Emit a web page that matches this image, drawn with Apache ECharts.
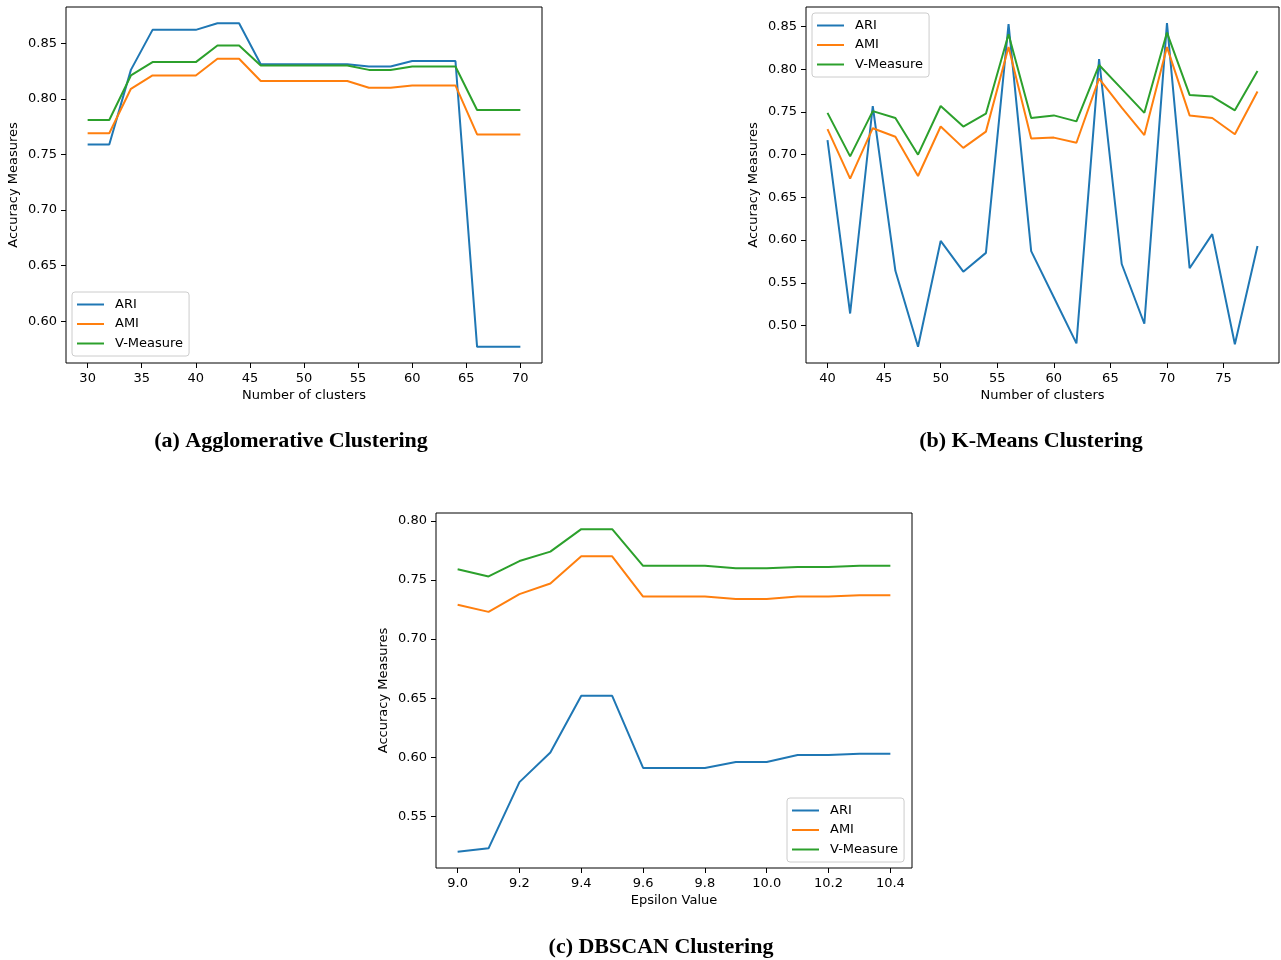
<!DOCTYPE html>
<html>
<head>
<meta charset="utf-8">
<script src="https://cdn.jsdelivr.net/npm/echarts@6/dist/echarts.min.js"></script>
<style>
  html, body { margin: 0; padding: 0; background: #fff; }
  #chart { width: 1281px; height: 960px; }
</style>
</head>
<body>
<div id="chart"></div>
<script>
// (a) Agglomerative
const aggX = [30, 32, 34, 36, 38, 40, 42, 44, 46, 48, 50, 52, 54, 56, 58, 60, 62, 64, 66, 68, 70];
const aggARI = [0.759, 0.759, 0.826, 0.862, 0.862, 0.862, 0.868, 0.868, 0.831, 0.831, 0.831, 0.831, 0.831, 0.829, 0.829, 0.834, 0.834, 0.834, 0.577, 0.577, 0.577];
const aggAMI = [0.769, 0.769, 0.809, 0.821, 0.821, 0.821, 0.836, 0.836, 0.816, 0.816, 0.816, 0.816, 0.816, 0.810, 0.810, 0.812, 0.812, 0.812, 0.768, 0.768, 0.768];
const aggV = [0.781, 0.781, 0.821, 0.833, 0.833, 0.833, 0.848, 0.848, 0.830, 0.830, 0.830, 0.830, 0.830, 0.826, 0.826, 0.829, 0.829, 0.829, 0.790, 0.790, 0.790];

// (b) K-Means
const kmX = [40, 42, 44, 46, 48, 50, 52, 54, 56, 58, 60, 62, 64, 66, 68, 70, 72, 74, 76, 78];
const kmARI = [0.717, 0.514, 0.757, 0.564, 0.475, 0.599, 0.563, 0.585, 0.853, 0.587, 0.533, 0.479, 0.812, 0.572, 0.502, 0.854, 0.567, 0.607, 0.478, 0.593];
const kmAMI = [0.730, 0.672, 0.731, 0.721, 0.675, 0.733, 0.708, 0.727, 0.826, 0.719, 0.720, 0.714, 0.789, 0.755, 0.723, 0.826, 0.746, 0.743, 0.724, 0.774];
const kmV = [0.749, 0.698, 0.751, 0.743, 0.700, 0.757, 0.733, 0.748, 0.841, 0.743, 0.746, 0.739, 0.805, 0.777, 0.749, 0.843, 0.770, 0.768, 0.752, 0.798];

// (c) DBSCAN
const dbX = [9.0, 9.1, 9.2, 9.3, 9.4, 9.5, 9.6, 9.7, 9.8, 9.9, 10.0, 10.1, 10.2, 10.3, 10.4];
const dbARI = [0.520, 0.523, 0.579, 0.604, 0.652, 0.652, 0.591, 0.591, 0.591, 0.596, 0.596, 0.602, 0.602, 0.603, 0.603];
const dbAMI = [0.729, 0.723, 0.738, 0.747, 0.770, 0.770, 0.736, 0.736, 0.736, 0.734, 0.734, 0.736, 0.736, 0.737, 0.737];
const dbV = [0.759, 0.753, 0.766, 0.774, 0.793, 0.793, 0.762, 0.762, 0.762, 0.760, 0.760, 0.761, 0.761, 0.762, 0.762];

const aggXTicks = [30, 35, 40, 45, 50, 55, 60, 65, 70];
const aggYTicks = [0.60, 0.65, 0.70, 0.75, 0.80, 0.85];
const kmXTicks = [40, 45, 50, 55, 60, 65, 70, 75];
const kmYTicks = [0.50, 0.55, 0.60, 0.65, 0.70, 0.75, 0.80, 0.85];
const dbXTicks = [9.0, 9.2, 9.4, 9.6, 9.8, 10.0, 10.2, 10.4];
const dbYTicks = [0.55, 0.60, 0.65, 0.70, 0.75, 0.80];

const names = ['ARI', 'AMI', 'V-Measure'];
const colors = ['#1f77b4', '#ff7f0e', '#2ca02c'];
const font = 'DejaVu Sans';

const chart = echarts.init(document.getElementById('chart'));

// matplotlib style 5% margins
const limits = (arrs) => {
  const all = [].concat(...arrs);
  const lo = Math.min(...all), hi = Math.max(...all);
  const pad = (hi - lo) * 0.05;
  return [lo - pad, hi + pad];
};

const grids = [
  { left: 66, top: 7, width: 476, height: 356 },
  { left: 806, top: 7, width: 473, height: 356 },
  { left: 436, top: 513, width: 476, height: 355 }
];

const panels = [
  { x: aggX, ys: [aggARI, aggAMI, aggV], xt: aggXTicks, yt: aggYTicks, xd: 0, xName: 'Number of clusters' },
  { x: kmX, ys: [kmARI, kmAMI, kmV], xt: kmXTicks, yt: kmYTicks, xd: 0, xName: 'Number of clusters' },
  { x: dbX, ys: [dbARI, dbAMI, dbV], xt: dbXTicks, yt: dbYTicks, xd: 1, xName: 'Epsilon Value' }
];

const xAxis = [], yAxis = [], series = [];
panels.forEach((p, i) => {
  const [xmin, xmax] = limits([p.x]);
  const [ymin, ymax] = limits(p.ys);
  xAxis.push({
    type: 'value', gridIndex: i, min: xmin, max: xmax,
    name: p.xName, nameLocation: 'middle', nameGap: 26,
    nameTextStyle: { fontFamily: font, fontSize: 13, color: '#000' },
    axisLine: { show: false },
    axisTick: { show: true, inside: false, length: 5, lineStyle: { color: '#000' }, customValues: p.xt },
    axisLabel: { customValues: p.xt, margin: 9, fontFamily: font, fontSize: 13, color: '#000',
      formatter: (v) => p.xd ? v.toFixed(p.xd) : String(v) },
    splitLine: { show: false }
  });
  yAxis.push({
    type: 'value', gridIndex: i, min: ymin, max: ymax,
    name: 'Accuracy Measures', nameLocation: 'middle', nameGap: 46, nameRotate: 90,
    nameTextStyle: { fontFamily: font, fontSize: 13, color: '#000' },
    axisLine: { show: false },
    axisTick: { show: true, inside: false, length: 5, lineStyle: { color: '#000' }, customValues: p.yt },
    axisLabel: { customValues: p.yt, margin: 9, fontFamily: font, fontSize: 13, color: '#000',
      formatter: (v) => v.toFixed(2) },
    splitLine: { show: false }
  });
  p.ys.forEach((vals, k) => {
    series.push({
      type: 'line', name: names[k], xAxisIndex: i, yAxisIndex: i,
      data: p.x.map((x, j) => [x, vals[j]]),
      showSymbol: false, symbol: 'none',
      lineStyle: { width: 2, color: colors[k] },
      itemStyle: { color: colors[k] }
    });
  });
});

const legendBase = {
  orient: 'vertical', data: names, icon: 'rect', itemWidth: 27, itemHeight: 2, itemGap: 6.5,
  backgroundColor: 'rgba(255,255,255,0.8)', borderColor: '#cccccc', borderWidth: 1, borderRadius: 3,
  padding: [6, 6, 6, 5], selectedMode: false,
  textStyle: { fontFamily: font, fontSize: 13, color: '#000', padding: [0, 0, 0, 6] }
};

const caption = (text, x, y) => ({
  type: 'text', x: x, y: y,
  style: { text: text, fill: '#000', font: 'bold 22px "Liberation Serif"', textAlign: 'center', textVerticalAlign: 'middle' }
});

chart.setOption({
  animation: false,
  grid: grids.map((g) => Object.assign({ show: true, borderColor: '#000', borderWidth: 1, backgroundColor: 'transparent' }, g)),
  xAxis: xAxis,
  yAxis: yAxis,
  legend: [
    Object.assign({ left: 72, top: 292 }, legendBase),
    Object.assign({ left: 812, top: 13 }, legendBase),
    Object.assign({ left: 787, top: 798 }, legendBase)
  ],
  series: series,
  graphic: [
    caption('(a) Agglomerative Clustering', 291, 441),
    caption('(b) K-Means Clustering', 1031, 441),
    caption('(c) DBSCAN Clustering', 661, 947)
  ]
});

window.addEventListener('resize', () => chart.resize());
</script>
</body>
</html>
